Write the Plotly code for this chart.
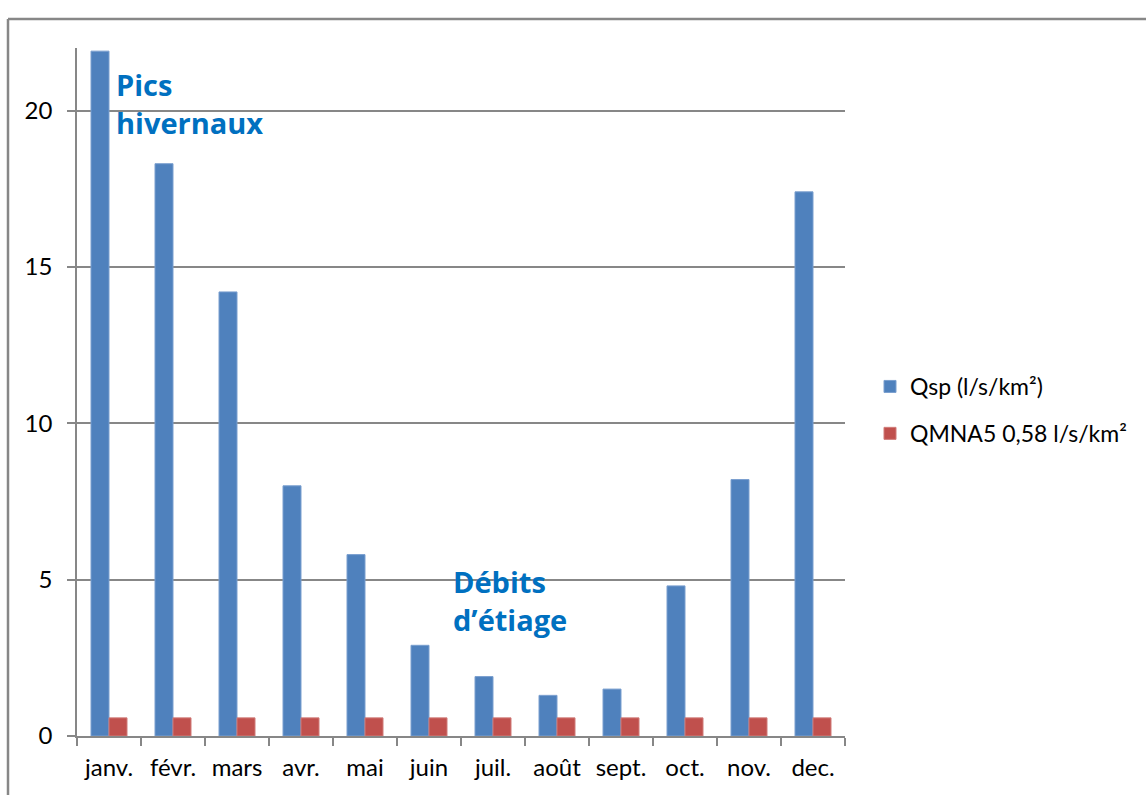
import plotly.graph_objects as go

# Monthly specific discharge vs. low-flow reference (QMNA5)
months = ["janv.", "févr.", "mars", "avr.", "mai", "juin",
          "juil.", "août", "sept.", "oct.", "nov.", "dec."]
qsp = [21.9, 18.3, 14.2, 8.0, 5.8, 2.9, 1.9, 1.3, 1.5, 4.8, 8.2, 17.4]
qmna5 = [0.58] * 12

W, H = 1146, 795
L, R, T, B = 77, 301, 48, 59
pw, ph = W - L - R, H - T - B

def px(x):
    return (x - L) / pw

def py(y):
    return (H - B - y) / ph

GRAY = "#878787"
FONT = "Lato"
TITLE_FONT = "Open Sans"

fig = go.Figure()
fig.add_bar(x=months, y=qsp, name="Qsp (l/s/km²)", legendgroup="a",
            marker=dict(color="#4F81BD", line=dict(color="#7A9FCF", width=1)))
fig.add_bar(x=months, y=qmna5, name="QMNA5 0,58 l/s/km²", legendgroup="b",
            marker=dict(color="#C0504D", line=dict(color="#D07A78", width=1)))

fig.update_layout(
    width=W, height=H,
    margin=dict(l=L, r=R, t=T, b=B),
    paper_bgcolor="white", plot_bgcolor="white",
    barmode="group", bargap=0.4375, bargroupgap=0,
    font=dict(family=FONT, size=24, color="#000000"),
    showlegend=True,
    legend=dict(x=px(870), y=py(410), xanchor="left", yanchor="middle",
                font=dict(family=FONT, size=23), traceorder="grouped",
                tracegroupgap=14, itemwidth=30, bgcolor="rgba(0,0,0,0)"),
    xaxis=dict(showline=True, linecolor=GRAY, linewidth=1.5,
               ticks="outside", tickson="boundaries", ticklen=8,
               tickcolor=GRAY, tickwidth=1.5, showgrid=False,
               ticklabelstandoff=9,
               tickfont=dict(size=24), fixedrange=True),
    yaxis=dict(range=[0, 22], tickvals=[0, 5, 10, 15, 20],
               showline=True, linecolor=GRAY, linewidth=1.5,
               ticks="outside", ticklen=8, tickcolor=GRAY, tickwidth=1.5,
               showgrid=True, gridcolor=GRAY, gridwidth=1.5,
               zeroline=False, ticklabelstandoff=10,
               tickfont=dict(size=24), fixedrange=True),
)

# Outer chart frame (top and left edges)
fig.add_shape(type="line", xref="paper", yref="paper",
              x0=px(8), y0=py(19), x1=px(W + 5), y1=py(19),
              line=dict(color=GRAY, width=2.5))
fig.add_shape(type="line", xref="paper", yref="paper",
              x0=px(8), y0=py(19), x1=px(8), y1=py(H + 5),
              line=dict(color=GRAY, width=2.5))

blue = "#0070C0"
fig.add_annotation(text="<b>Pics<br>hivernaux</b>", xref="paper", yref="paper",
                   x=px(114), y=py(63), xanchor="left", yanchor="top",
                   showarrow=False, align="left",
                   font=dict(family=TITLE_FONT, size=29, color=blue))
fig.add_annotation(text="<b>Débits<br>d’étiage</b>", xref="paper", yref="paper",
                   x=px(451), y=py(560), xanchor="left", yanchor="top",
                   showarrow=False, align="left",
                   font=dict(family=TITLE_FONT, size=29, color=blue))

fig.write_html("out.html")
